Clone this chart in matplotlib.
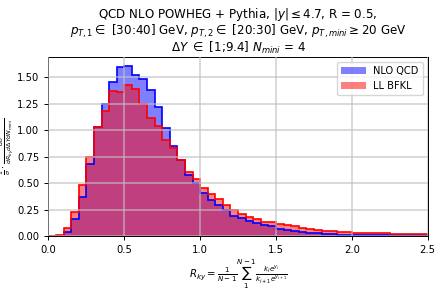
import numpy as np
import matplotlib
matplotlib.use("Agg")
import matplotlib.pyplot as plt
from matplotlib.ticker import MultipleLocator

# bin edges in R_ky (width 0.05, 0 -> 2.5)
bin_edges = np.round(np.arange(0, 2.5001, 0.05), 3)

# normalised bin contents
nlo_qcd = [0.0, 0.0, 0.035, 0.16, 0.37, 0.68, 1.035, 1.25, 1.455, 1.60,
           1.61, 1.52, 1.49, 1.38, 1.22, 1.02, 0.855, 0.72, 0.58, 0.50,
           0.41, 0.34, 0.29, 0.245, 0.19, 0.17, 0.14, 0.12, 0.10, 0.09,
           0.065, 0.057, 0.047, 0.04, 0.032, 0.025, 0.022, 0.016, 0.013, 0.012,
           0.010, 0.010, 0.009, 0.008, 0.008, 0.007, 0.006, 0.006, 0.005, 0.005]
ll_bfkl = [0.0, 0.01, 0.072, 0.23, 0.48, 0.75, 1.03, 1.18, 1.375, 1.36,
           1.43, 1.39, 1.25, 1.12, 1.04, 0.91, 0.83, 0.72, 0.61, 0.54,
           0.45, 0.40, 0.35, 0.29, 0.25, 0.21, 0.18, 0.16, 0.135, 0.13,
           0.115, 0.105, 0.09, 0.075, 0.065, 0.057, 0.05, 0.045, 0.04, 0.038,
           0.032, 0.03, 0.028, 0.026, 0.025, 0.022, 0.021, 0.02, 0.02, 0.019]

labels = ["NLO QCD", "LL BFKL"]
colors = ["blue", "red"]

centers = 0.5 * (bin_edges[:-1] + bin_edges[1:])

fig = plt.figure(figsize=(4.36, 2.91), dpi=100)
ax = fig.add_axes([0.111, 0.189, 0.870, 0.614])

for vals, lab, col in zip([nlo_qcd, ll_bfkl], labels, colors):
    ax.hist(centers, bins=bin_edges, weights=vals, color=col, alpha=0.5,
            label=lab)
    ax.hist(centers, bins=bin_edges, weights=vals, histtype="step",
            color=col, linewidth=1.2)

ax.set_xlim(0, 2.5)
ax.yaxis.set_major_locator(MultipleLocator(0.25))
ax.set_axisbelow(False)
ax.grid(True, color="#c0c0c0", alpha=0.7, linewidth=1.2)
ax.tick_params(labelsize=7.2, length=3, width=0.7)
for s in ax.spines.values():
    s.set_linewidth(0.7)

ax.legend(loc="upper right", fontsize=7.1, handlelength=2.5)

ax.set_xlabel(r"$R_{ky} = \frac{1}{N-1}\sum_{1}^{N-1}\frac{k_i e^{y_i}}{k_{i+1}e^{y_{i+1}}}$",
              fontsize=7.3, labelpad=2)
ax.set_ylabel(r"$\frac{1}{\sigma}\cdot\frac{d\sigma}{dR_{ky}d\Delta Y dN_{mini}}$",
              fontsize=6.4)
ax.yaxis.set_label_coords(-0.085, 0.5)
ax.set_title("QCD NLO POWHEG + Pythia, $|y| \\leq 4.7$, R = 0.5,\n"
             "$p_{T,1} \\in$ [30:40] GeV, $p_{T,2} \\in$ [20:30] GeV, "
             "$p_{T,mini} \\geq 20$ GeV\n"
             "$\\Delta Y$ $\\in$ [1;9.4] $N_{mini}$ = 4",
             fontsize=8.6, linespacing=1.0, pad=4)

fig.savefig("out.png", dpi=100)
